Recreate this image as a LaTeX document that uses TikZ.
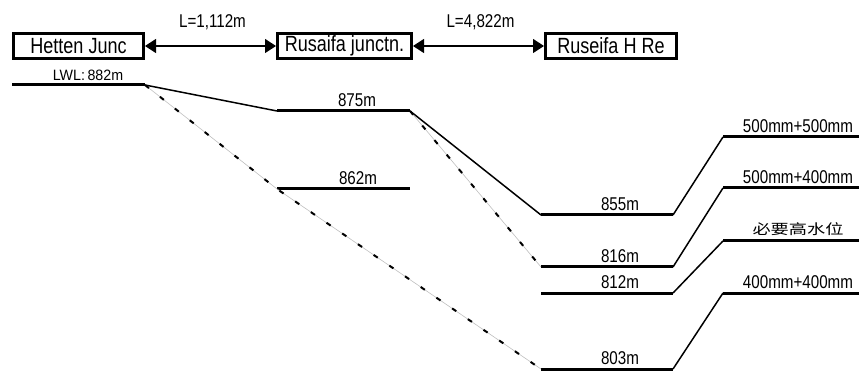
\documentclass[tikz,border=0pt]{standalone}
\usepackage{fontspec}
\setmainfont{Liberation Sans}[FakeStretch=0.82]
\newfontfamily\lwlfont{Liberation Sans}[FakeStretch=0.95]
\newfontfamily\cjk{Noto Sans CJK SC}[FakeStretch=1.3]
\usetikzlibrary{arrows.meta,positioning}

\begin{document}
\begin{tikzpicture}[x=1pt,y=-1pt,
node distance=131pt,
stn/.style={draw,line width=3pt,inner sep=0pt,minimum height=25pt,
font=\fontsize{22}{22}\selectfont},
lvl/.style={line width=3pt},
slope/.style={line width=1.5pt},
pipe/.style={draw=gray!50,line width=0.6pt,
postaction={draw=black,line width=2pt,dash pattern=on 5pt off 14pt}},
dist/.style={{Triangle[length=11pt,width=14pt]}-{Triangle[length=11pt,width=14pt]},line width=1.2pt},
elev/.style={anchor=base,inner sep=0pt,font=\fontsize{18.5}{19}\selectfont}
]
\useasboundingbox (0,0) rectangle (859,371);

% stations
\node[stn,minimum width=130pt] (hetten) at (78.5,46) {Hetten Junc};
\node[stn,minimum width=134pt,right=of hetten] (rusaifa) {Rusaifa junctn.};
\node[stn,minimum width=131pt,right=of rusaifa] (ruseifa) {Ruseifa H Re};
\draw[dist] (hetten) -- node[elev,yshift=18pt,xshift=2pt] (len1) {L=1,112m} (rusaifa);
\draw[dist] (rusaifa) -- node[elev,yshift=18pt,xshift=2pt] (len2) {L=4,822m} (ruseifa);

% water levels
\foreach \nm/\xa/\xb/\yy/\xt/\txt in {
lwl/12/145/85/88/{\lwlfont\fontsize{15}{15}\selectfont LWL:\,882m},
ea/277/410/111/357/875m,
eb/277/410/189/358/862m,
ec/541/673/215/620/855m,
ed/541/673/267/620/816m,
ee/541/673/293/620/812m,
ef/541/673/369/620/803m,
pa/723/859/137/798/500mm+500mm,
pb/723/859/188/798/500mm+400mm,
pc/723/859/241/798/{\cjk\fontsize{14}{14}\selectfont\raisebox{1.5pt}{必要高水位}},
pd/723/859/293/798/400mm+400mm}
{\draw[lvl] (\xa,\yy) coordinate (\nm a) -- (\xb,\yy) coordinate (\nm b);
\node[elev] (\nm t) at (\xt,\yy-4.5) {\txt};}

% hydraulic gradient
\draw[slope] (lwlb) -- (eaa);
\draw[slope] (eab) -- (eca);
\draw[slope] (ecb) -- (paa);
\draw[slope] (edb) -- (pba);
\draw[slope] (eeb) -- (pca);
\draw[slope] (efb) -- (pda);
\draw[pipe] (lwlb) -- (eba) -- (efa);
\draw[pipe] (eab) -- (eda);
\end{tikzpicture}
\end{document}
